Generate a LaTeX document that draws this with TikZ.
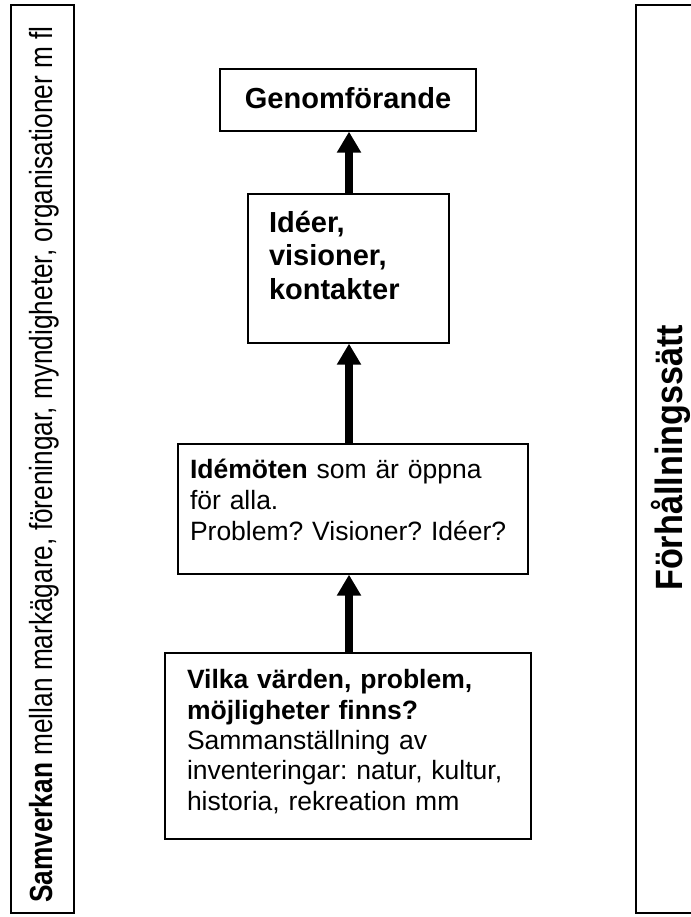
\documentclass[tikz,border=0pt]{standalone}
\usepackage{fontspec}
\setmainfont{Liberation Sans}
\newfontfamily\narrowfont[FakeStretch=0.82]{Liberation Sans}
\newfontfamily\sidefont[FakeStretch=0.9]{Liberation Sans}
\usetikzlibrary{arrows.meta}
\frenchspacing
\begin{document}
\begin{tikzpicture}[x=1pt,y=-1pt,
  frame/.style={line width=1.5pt, draw=black},
  box/.style={draw=black, line width=1.3pt, inner ysep=0pt, align=left, anchor=center},
  bigbold/.style={font=\fontsize{29}{33.5}\selectfont\bfseries},
  arr/.style={line width=7.5pt, -{Triangle[length=21pt,width=23pt]}}]
\useasboundingbox (0,0) rectangle (690,917);
% side frames
\draw[frame] (11,5) rectangle (74,913);
\draw[frame] (692,5) -- (636,5) -- (636,913) -- (692,913);
\node[rotate=90, anchor=base west, inner sep=0pt, font=\narrowfont\fontsize{32}{38}\selectfont] (samverkan) at (52,903)
  {\textbf{Samverkan} mellan markägare, föreningar, myndigheter, organisationer m fl};
\node[rotate=90, anchor=base west, inner sep=0pt, font=\sidefont\fontsize{38}{44}\selectfont\bfseries] (forhall) at (682,591)
  {Förhållningssätt};
% central boxes
\node[box, bigbold, align=center, minimum width=256pt, minimum height=62pt, text depth=5pt] (genom) at (348,100) {Genomförande};
\node[box, bigbold, text width=159pt, inner xsep=21pt, minimum height=149pt, text depth=94pt] (ideer) at (348.5,268.5)
  {Idéer,\\visioner,\\kontakter};
\node[box, font=\fontsize{26.5}{31}\selectfont, text width=326pt, inner xsep=12pt, minimum height=130pt, text depth=81.3pt] (idemoten) at (353,509)
  {\textbf{Idémöten} som är öppna\\för alla.\\Problem? Visioner? Idéer?};
\node[box, font=\fontsize{26.5}{30.3}\selectfont, text width=322pt, inner xsep=22pt, minimum height=186pt, text depth=133.3pt] (vilka) at (348,746)
  {\textbf{Vilka värden, problem,}\\\textbf{möjligheter finns?}\\Sammanställning av\\inventeringar: natur, kultur,\\historia, rekreation mm};
% arrows
\coordinate (ax) at (349,0);
\draw[arr] (ideer.north -| ax) -- (genom.south -| ax);
\draw[arr] (idemoten.north -| ax) -- (ideer.south -| ax);
\draw[arr] (vilka.north -| ax) -- (idemoten.south -| ax);
\end{tikzpicture}
\end{document}
